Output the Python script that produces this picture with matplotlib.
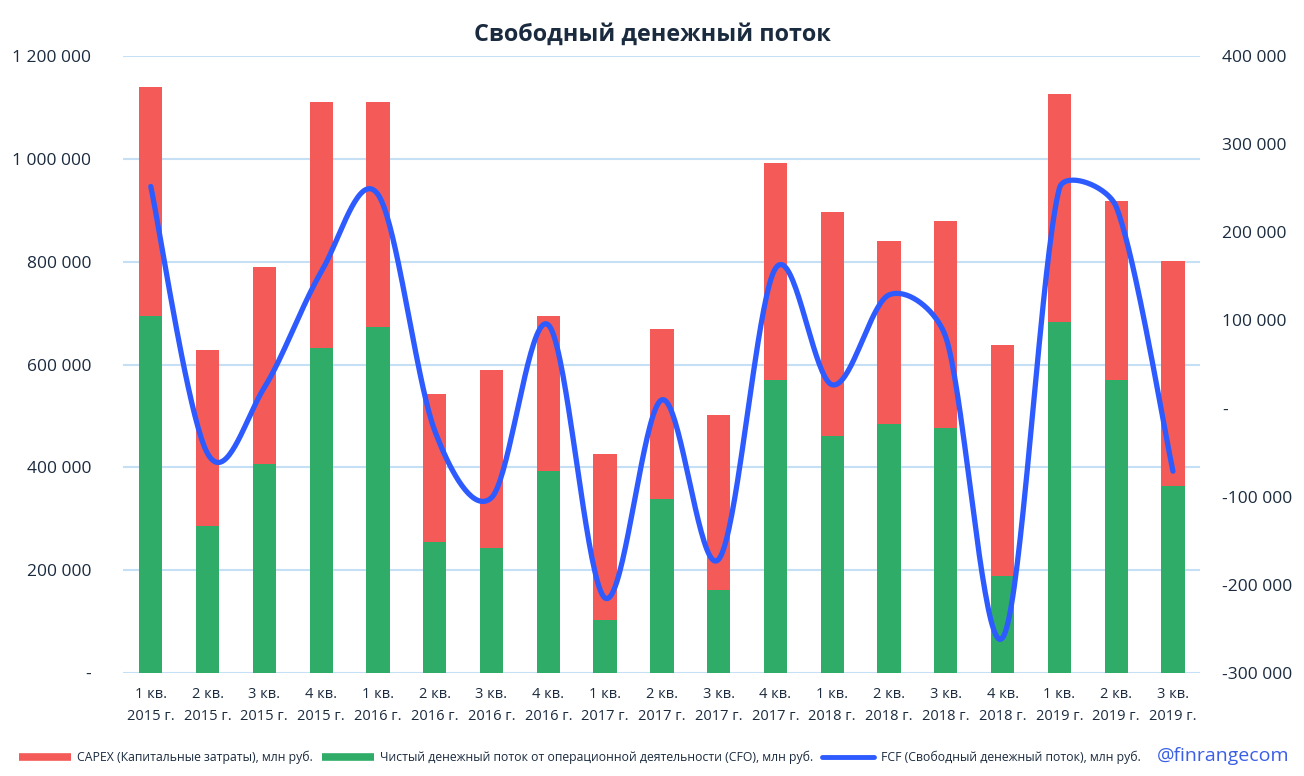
import matplotlib.pyplot as plt
import numpy as np
from matplotlib.lines import Line2D
from matplotlib.ticker import FuncFormatter

plt.rcParams['font.family'] = ['Open Sans', 'DejaVu Sans']

quarters = ["1 кв.\n2015 г.", "2 кв.\n2015 г.", "3 кв.\n2015 г.", "4 кв.\n2015 г.",
            "1 кв.\n2016 г.", "2 кв.\n2016 г.", "3 кв.\n2016 г.", "4 кв.\n2016 г.",
            "1 кв.\n2017 г.", "2 кв.\n2017 г.", "3 кв.\n2017 г.", "4 кв.\n2017 г.",
            "1 кв.\n2018 г.", "2 кв.\n2018 г.", "3 кв.\n2018 г.", "4 кв.\n2018 г.",
            "1 кв.\n2019 г.", "2 кв.\n2019 г.", "3 кв.\n2019 г."]
# млн руб.
cfo = [694000, 286000, 406000, 632000, 673000, 255000, 243000, 393000, 103000, 338000,
       161000, 570000, 461000, 484000, 477000, 189000, 683000, 570000, 364000]
capex = [446000, 342000, 384000, 478000, 437000, 288000, 346000, 301000, 323000, 331000,
         341000, 422000, 436000, 356000, 402000, 449000, 443000, 348000, 437000]
fcf = [252000, -51000, 24000, 155000, 243000, -25000, -101000, 95000, -215000, 10000,
       -171000, 159000, 27000, 129000, 81000, -260000, 250000, 229000, -71000]

RED = "#F45B58"
GREEN = "#2FAD68"
BLUE = "#2E5BFF"
GRID = "#C5E0F4"
TXT = "#1B2B3F"


def smooth(xs, ys, sx=56.8, sy=88.1 / 100000, n=40):
    # excel-like smoothed line, control points computed in pixel space
    pts = np.column_stack([np.asarray(xs) * sx, np.asarray(ys) * sy]).astype(float)
    p = np.vstack([pts[0], pts, pts[-1]])
    out = []
    t = np.linspace(0, 1, n)[:, None]

    def tang(a, c, d):
        v = (c - a) / 6
        L = np.hypot(*v)
        half = d / 2
        if L > half and L > 0:
            v = v * (half / L) ** 1.5
        return v

    for i in range(1, len(p) - 2):
        p0, p3 = p[i], p[i + 1]
        d = np.hypot(*(p3 - p0))
        c1 = p0 + tang(p[i - 1], p[i + 1], d)
        c2 = p3 - tang(p[i], p[i + 2], d)
        seg = (1 - t) ** 3 * p0 + 3 * (1 - t) ** 2 * t * c1 + 3 * (1 - t) * t ** 2 * c2 + t ** 3 * p3
        out.append(seg if i == 1 else seg[1:])
    out = np.vstack(out)
    return out[:, 0] / sx, out[:, 1] / sy


def fmt(v, pos):
    if abs(v) < 1:
        return "-"
    s = f"{abs(int(round(v))):,}".replace(",", " ")
    return ("-" if v < 0 else "") + s


fig = plt.figure(figsize=(13.04, 7.76), dpi=100)
ax = fig.add_axes([0.0943, 0.1327, 0.8257, 0.7951])
x = np.arange(len(quarters))

ax.bar(x, cfo, width=0.41, color=GREEN, zorder=2)
ax.bar(x, capex, width=0.41, bottom=cfo, color=RED, zorder=2)
ax.set_ylim(0, 1200000)
ax.set_yticks(np.arange(0, 1200001, 200000))
ax.yaxis.set_major_formatter(FuncFormatter(fmt))
ax.set_xlim(-0.49, 18.47)
ax.set_xticks(x)
ax.set_xticklabels(quarters, fontsize=10.5, color=TXT, linespacing=1.6)
ax.tick_params(axis='y', labelsize=12.5, labelcolor=TXT, length=0, pad=23)
ax.tick_params(axis='x', length=0, pad=10)
ax.grid(axis='y', color=GRID, lw=1.5, zorder=0)
for s in ax.spines.values():
    s.set_visible(False)

ax2 = ax.twinx()
sx, sy = smooth(x, fcf)
ax2.plot(sx, sy, color=BLUE, lw=3.8, solid_capstyle='round', zorder=3)
ax2.set_ylim(-300000, 400000)
ax2.set_yticks(np.arange(-300000, 400001, 100000))
ax2.yaxis.set_major_formatter(FuncFormatter(fmt))
ax2.tick_params(axis='y', labelsize=12.5, labelcolor=TXT, length=0, pad=16)
for s in ax2.spines.values():
    s.set_visible(False)

fig.text(0.5, 0.955, "Свободный денежный поток", ha='center', va='center',
         fontsize=16.8, fontweight='bold', color=TXT)

handles = [Line2D([], [], color=RED, lw=5.5, solid_capstyle='butt'),
           Line2D([], [], color=GREEN, lw=5.5, solid_capstyle='butt'),
           Line2D([], [], color=BLUE, lw=3.5, solid_capstyle='round')]
labels = ["CAPEX (Капитальные затраты), млн руб.",
          "Чистый денежный поток от операционной деятельности (CFO), млн руб.",
          "FCF (Свободный денежный поток), млн руб."]
fig.legend(handles, labels, loc='center left', bbox_to_anchor=(0.006, 0.024), ncol=3,
           frameon=False, fontsize=8.8, handlelength=4.25, handletextpad=0.55,
           columnspacing=0.7, labelcolor=TXT)
fig.text(0.989, 0.026, "@finrangecom", ha='right', va='center', fontsize=14,
         color="#3A5FE6")

fig.savefig("out.png", dpi=100)
